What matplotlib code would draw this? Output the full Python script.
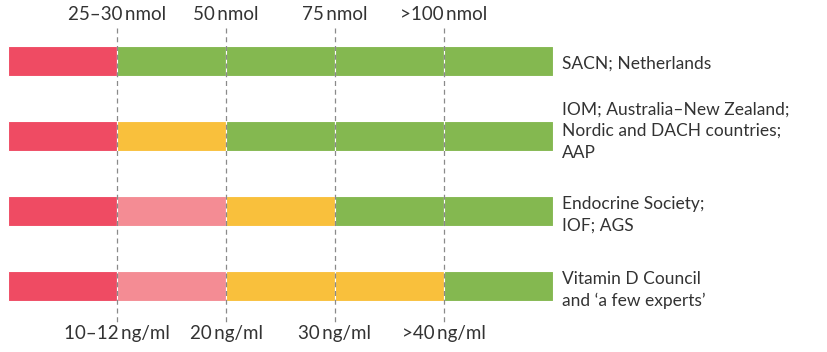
import matplotlib
matplotlib.use("Agg")
import matplotlib.pyplot as plt

# ==================== DATA ====================
ROW_LABELS = [
    "SACN; Netherlands",
    "IOM; Australia\u2013New Zealand;\nNordic and DACH countries;\nAAP",
    "Endocrine Society;\nIOF; AGS",
    "Vitamin D Council\nand \u2018a few experts\u2019",
]
# status of each of the five segments per row
ROW_SEGMENTS = [
    ["deficient", "sufficient", "sufficient", "sufficient", "sufficient"],
    ["deficient", "insufficient", "sufficient", "sufficient", "sufficient"],
    ["deficient", "low", "insufficient", "sufficient", "sufficient"],
    ["deficient", "low", "insufficient", "insufficient", "sufficient"],
]
TOP_LABELS = ["25\u201330\u2009nmol", "50\u2009nmol", "75\u2009nmol", ">100\u2009nmol"]
BOTTOM_LABELS = ["10\u201312\u2009ng/ml", "20\u2009ng/ml", "30\u2009ng/ml", ">40\u2009ng/ml"]

COLORS = {
    "deficient": "#EF4B63",
    "low": "#F48C94",
    "insufficient": "#F9C03C",
    "sufficient": "#84B850",
}
TEXT_COLOR = "#333333"
# ==============================================

plt.rcParams['font.family'] = ['Lato', 'DejaVu Sans']

W, H = 828, 352
fig = plt.figure(figsize=(W / 100, H / 100), dpi=100)
# axes: x in segment units (0..5), y in row units
ax = fig.add_axes([8 / W, 0, 545 / W, 1])
ax.set_xlim(0, 5)
ax.set_ylim((H - 61) / 75, -61 / 75)
ax.axis('off')

for i, segs in enumerate(ROW_SEGMENTS):
    for j, s in enumerate(segs):
        ax.barh(i, 1, left=j, height=0.4, color=COLORS[s],
                edgecolor='white', linewidth=0.8)

px = 1 / 75  # one pixel in row units
for k in range(1, 5):
    ax.plot([k, k], [-0.44, 3.48], color='#8a8a8a', lw=0.9,
            ls=(0, (4, 3)), zorder=3)

for k, lab in enumerate(TOP_LABELS, start=1):
    ax.text(k, -46 * px, lab, ha='center', va='center',
            fontsize=13.5, color=TEXT_COLOR)
for k, lab in enumerate(BOTTOM_LABELS, start=1):
    ax.text(k, 3.0 + 48 * px, lab, ha='center', va='center',
            fontsize=13.5, color=TEXT_COLOR)

label_dy = [3, -5, 4, 4]
for i, lab in enumerate(ROW_LABELS):
    ax.text(5 + 9 / 109, i + label_dy[i] * px, lab, ha='left', va='center',
            fontsize=12.5, color=TEXT_COLOR, linespacing=1.45, clip_on=False)

fig.savefig("out.png", dpi=100)
